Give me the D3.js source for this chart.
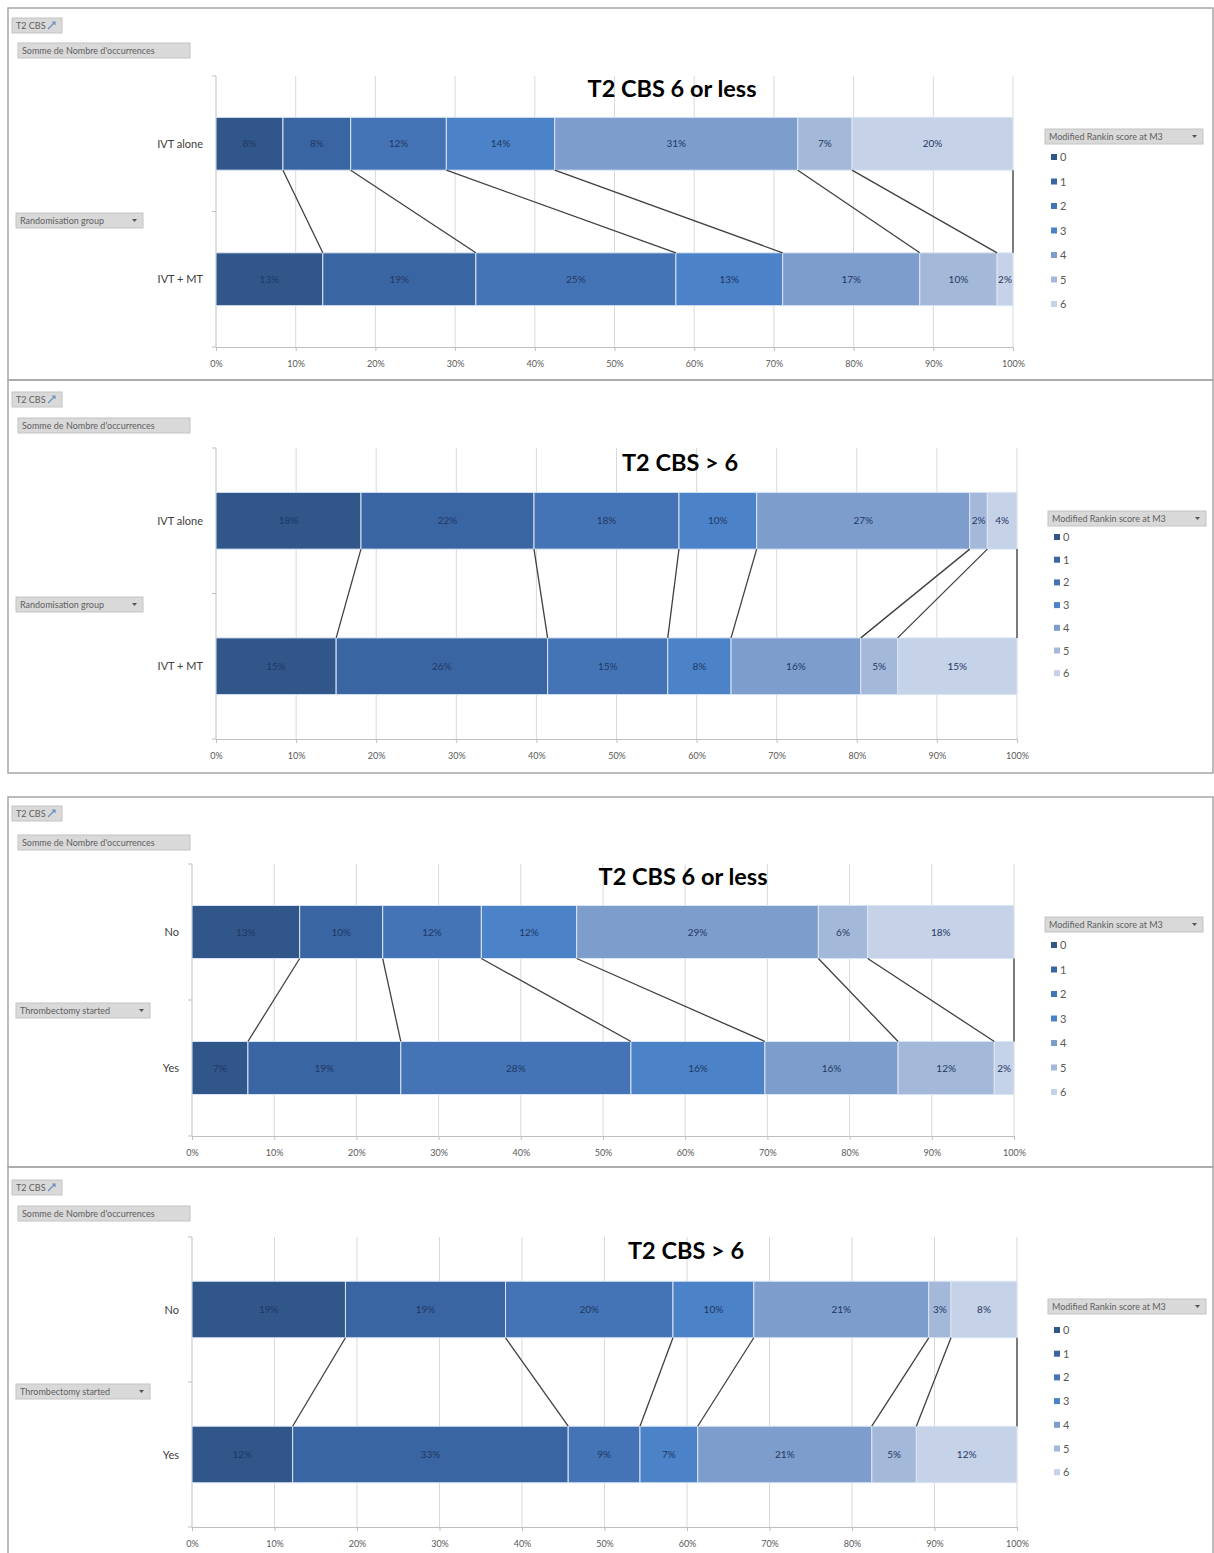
<!DOCTYPE html>
<html>
<head>
<meta charset="utf-8">
<script src="https://cdn.jsdelivr.net/npm/d3@7"></script>
<style>
  body { margin: 0; background: #fff; }
  text { font-family: Lato, "Open Sans", sans-serif; }
</style>
</head>
<body>
<div id="visualization"></div>
<script>
// Data (percent of patients per mRS score)
const scores = ["0", "1", "2", "3", "4", "5", "6"];
const xTicks = [0, 10, 20, 30, 40, 50, 60, 70, 80, 90, 100];
const randomGroups = ["IVT alone", "IVT + MT"];
const thrombGroups = ["No", "Yes"];
const titles = ["T2 CBS 6 or less", "T2 CBS > 6", "T2 CBS 6 or less", "T2 CBS > 6"];

const p1IvtAlone = [8.4, 8.5, 12.0, 13.6, 30.5, 6.8, 20.2];
const p1IvtMt    = [13.4, 19.2, 25.1, 13.4, 17.2, 9.7, 2.0];
const p2IvtAlone = [18.1, 21.6, 18.1, 9.7, 26.6, 2.2, 3.7];
const p2IvtMt    = [15.0, 26.4, 15.0, 7.9, 16.2, 4.6, 14.9];
const p3No       = [13.1, 10.1, 12.0, 11.6, 29.4, 6.0, 17.8];
const p3Yes      = [6.8, 18.6, 28.0, 16.3, 16.2, 11.7, 2.4];
const p4No       = [18.6, 19.4, 20.3, 9.8, 21.2, 2.7, 8.0];
const p4Yes      = [12.2, 33.4, 8.7, 7.0, 21.1, 5.4, 12.2];

const colors = ["#30568a", "#3a65a3", "#4474b6", "#4b82c8", "#7d9dcc", "#a4b8da", "#c6d2e8"];

// layout of each pivot chart on the page
const panels = [
  { title: titles[0], cats: randomGroups, values: [p1IvtAlone, p1IvtMt], rowField: "Randomisation group",
    box: [8, 380], plot: { x0: 216, x1: 1013, y0: 76, y1: 347 }, titleX: 672, titleY: 97,
    btnY: 18, sumY: 43, groupY: 213, groupW: 127, legX: 1045, legY: 129, itemY: 157, itemStep: 24.5 },
  { title: titles[1], cats: randomGroups, values: [p2IvtAlone, p2IvtMt], rowField: "Randomisation group",
    box: [380, 773], plot: { x0: 216, x1: 1017, y0: 448, y1: 739 }, titleX: 680, titleY: 471,
    btnY: 392, sumY: 418, groupY: 597, groupW: 127, legX: 1048, legY: 511, itemY: 537, itemStep: 22.7 },
  { title: titles[2], cats: thrombGroups, values: [p3No, p3Yes], rowField: "Thrombectomy started",
    box: [797, 1167], plot: { x0: 192, x1: 1014, y0: 864, y1: 1136 }, titleX: 683, titleY: 885,
    btnY: 806, sumY: 835, groupY: 1003, groupW: 134, legX: 1045, legY: 917, itemY: 945, itemStep: 24.5 },
  { title: titles[3], cats: thrombGroups, values: [p4No, p4Yes], rowField: "Thrombectomy started",
    box: [1167, 1600], plot: { x0: 192, x1: 1017, y0: 1237, y1: 1527 }, titleX: 686, titleY: 1259,
    btnY: 1180, sumY: 1206, groupY: 1384, groupW: 134, legX: 1048, legY: 1299, itemY: 1330, itemStep: 23.7 }
];

const svg = d3.select("#visualization").append("svg")
    .attr("width", 1214)
    .attr("height", 1553);

// gray pivot field button
function fieldButton(x, y, w, label, dropdown) {
  const g = svg.append("g").attr("transform", "translate(" + x + "," + y + ")");
  g.append("rect")
      .attr("width", w).attr("height", 15)
      .attr("fill", "#d9d9d9").attr("stroke", "#c4c4c4");
  g.append("text")
      .attr("x", 4).attr("y", 11)
      .attr("font-size", 9).attr("fill", "#5f5f5f")
      .text(label);
  if (dropdown) {
    g.append("path")
        .attr("d", "M" + (w - 11) + ",6 l5,0 l-2.5,3 z")
        .attr("fill", "#555");
  }
  return g;
}

panels.forEach(p => {
  // panel frame
  svg.append("path")
      .attr("d", "M8," + p.box[1] + " L8," + p.box[0] + " L1213," + p.box[0] + " L1213," + p.box[1] + " Z")
      .attr("fill", "none")
      .attr("stroke", "#a6a6a6")
      .attr("stroke-width", 1.5);

  // pivot buttons
  const b = fieldButton(12, p.btnY, 50, "T2 CBS", false);
  b.append("path")
      .attr("d", "M36,11 l7,-7 M40,4 l3,0 l0,3")
      .attr("stroke", "#6a8fbf").attr("fill", "none").attr("stroke-width", 1.2);
  fieldButton(18, p.sumY, 172, "Somme de Nombre d'occurrences", false);
  fieldButton(16, p.groupY, p.groupW, p.rowField, true);

  const x = d3.scaleLinear()
      .domain([0, 100])
      .range([p.plot.x0, p.plot.x1]);

  const y = d3.scaleBand()
      .domain(p.cats)
      .range([p.plot.y0, p.plot.y1])
      .paddingInner(0.61)
      .paddingOuter(0.305);

  // gridlines
  svg.append("g")
      .selectAll("line")
      .data(xTicks.slice(1))
    .enter().append("line")
      .attr("x1", d => x(d)).attr("x2", d => x(d))
      .attr("y1", p.plot.y0).attr("y2", p.plot.y1)
      .attr("stroke", "#d9d9d9");

  // x axis
  const xAxis = svg.append("g")
      .attr("transform", "translate(0," + p.plot.y1 + ")")
      .call(d3.axisBottom(x).tickValues(xTicks).tickFormat(d => d + "%").tickSize(4).tickPadding(10));
  xAxis.select(".domain").attr("stroke", "#bfbfbf");
  xAxis.selectAll(".tick line").attr("stroke", "#bfbfbf");
  xAxis.selectAll(".tick text")
      .attr("font-family", "Lato, sans-serif")
      .attr("font-size", 9).attr("fill", "#595959");

  // category axis
  svg.append("line")
      .attr("x1", p.plot.x0).attr("x2", p.plot.x0)
      .attr("y1", p.plot.y0).attr("y2", p.plot.y1)
      .attr("stroke", "#bfbfbf");
  const bounds = [p.plot.y0, (p.plot.y0 + p.plot.y1) / 2, p.plot.y1];
  svg.append("g").selectAll("line")
      .data(bounds)
    .enter().append("line")
      .attr("x1", p.plot.x0 - 4).attr("x2", p.plot.x0)
      .attr("y1", d => d).attr("y2", d => d)
      .attr("stroke", "#bfbfbf");
  svg.append("g").selectAll("text")
      .data(p.cats)
    .enter().append("text")
      .attr("x", p.plot.x0 - 13)
      .attr("y", d => y(d) + y.bandwidth() / 2 + 4)
      .attr("text-anchor", "end")
      .attr("font-size", 11).attr("fill", "#404040")
      .text(d => d);

  // stacked bars
  const table = p.cats.map((c, i) => {
    const row = { cat: c };
    scores.forEach((s, j) => { row[s] = p.values[i][j]; });
    return row;
  });
  const series = d3.stack().keys(scores)(table);

  const layer = svg.append("g").selectAll("g")
      .data(series)
    .enter().append("g")
      .attr("fill", (d, i) => colors[i]);

  layer.selectAll("rect")
      .data(d => d)
    .enter().append("rect")
      .attr("x", d => x(d[0]))
      .attr("y", d => y(d.data.cat))
      .attr("width", d => x(d[1]) - x(d[0]))
      .attr("height", y.bandwidth())
      .attr("stroke", "#dbe5f3")
      .attr("stroke-width", 1);

  layer.selectAll("text")
      .data(d => d)
    .enter().append("text")
      .attr("x", d => (x(d[0]) + x(d[1])) / 2)
      .attr("y", d => y(d.data.cat) + y.bandwidth() / 2 + 3.5)
      .attr("text-anchor", "middle")
      .attr("font-size", 10)
      .attr("fill", "#1f3864")
      .text(d => Math.round(d[1] - d[0]) + "%");

  // series lines joining the two bars
  svg.append("g").selectAll("line")
      .data(series)
    .enter().append("line")
      .attr("x1", d => x(d[0][1]))
      .attr("y1", y(p.cats[0]) + y.bandwidth())
      .attr("x2", d => x(d[1][1]))
      .attr("y2", y(p.cats[1]))
      .attr("stroke", "#404040")
      .attr("stroke-width", 1.3);

  // title
  svg.append("text")
      .attr("x", p.titleX)
      .attr("y", p.titleY)
      .attr("text-anchor", "middle")
      .attr("font-size", 23.5).attr("font-weight", "bold")
      .attr("fill", "#000")
      .text(p.title);

  // legend
  fieldButton(p.legX, p.legY, 158, "Modified Rankin score at M3", true);
  const items = svg.append("g").selectAll("g")
      .data(scores)
    .enter().append("g")
      .attr("transform", (d, i) => "translate(" + (p.legX + 6) + "," + (p.itemY + i * p.itemStep) + ")");
  items.append("rect")
      .attr("x", 0).attr("y", -3)
      .attr("width", 6).attr("height", 6)
      .attr("fill", (d, i) => colors[i]);
  items.append("text")
      .attr("x", 9).attr("y", 4)
      .attr("font-size", 11).attr("fill", "#595959")
      .text(d => d);
});
</script>
</body>
</html>
